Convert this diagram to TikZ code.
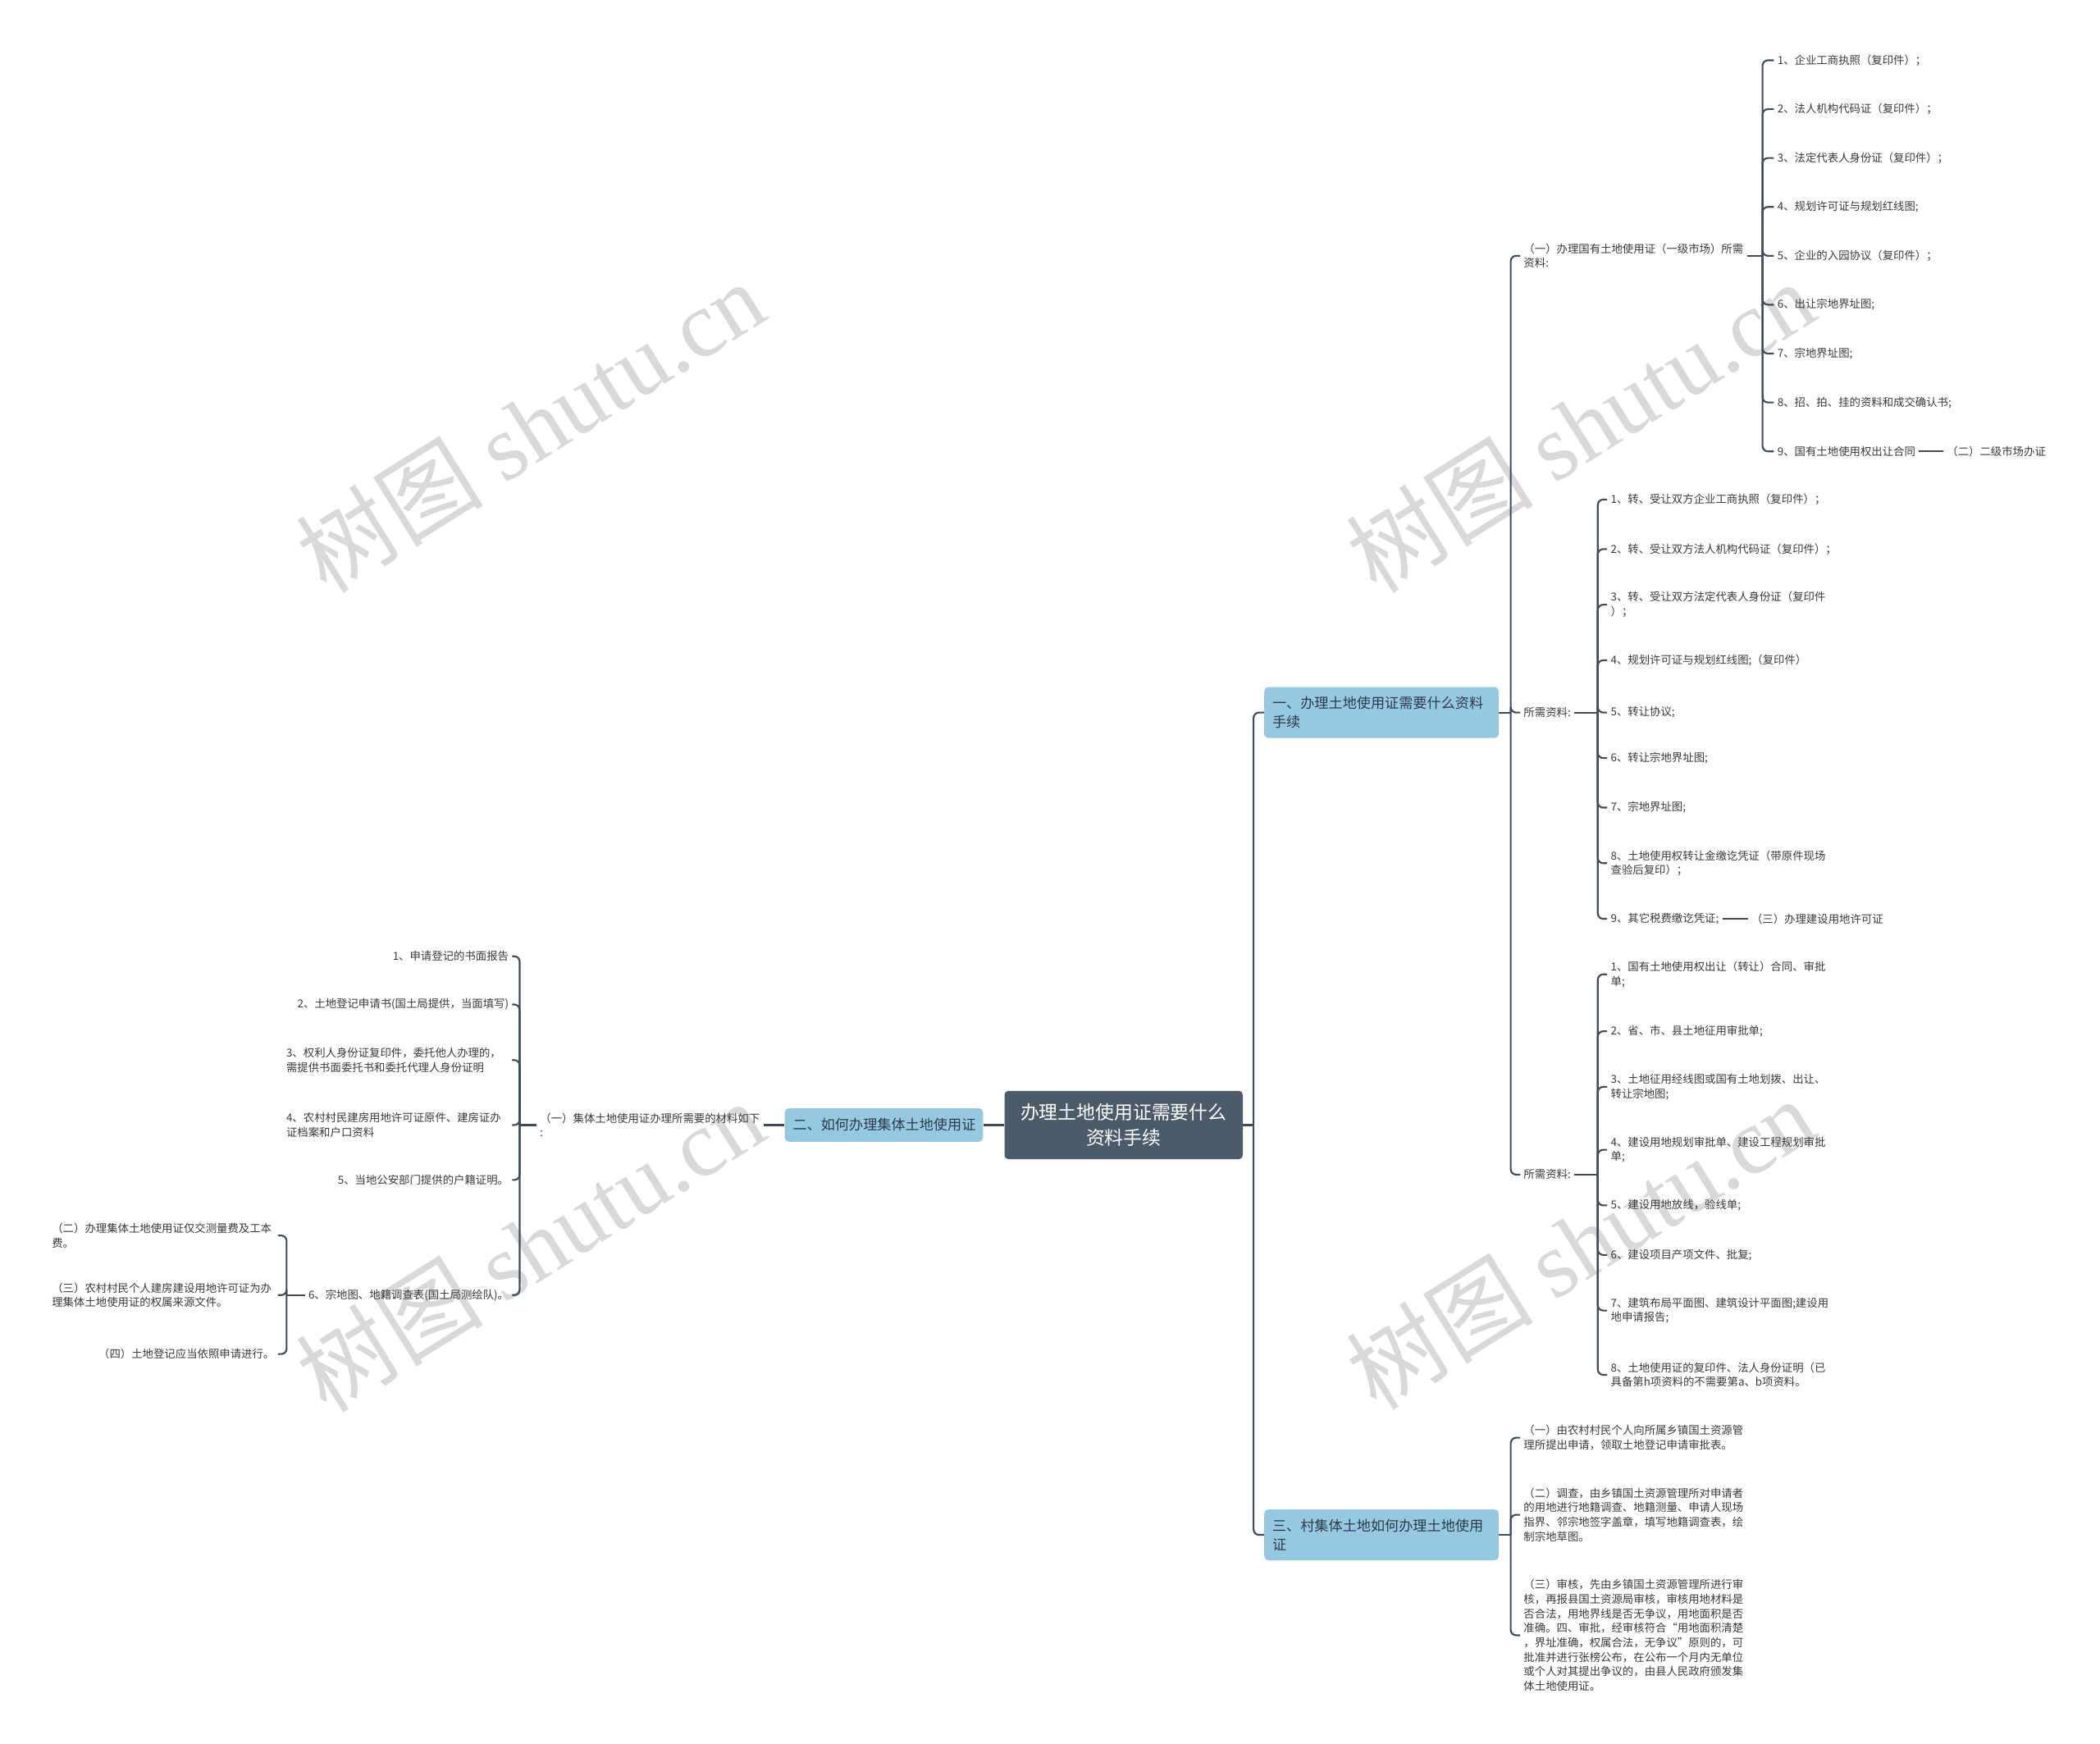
\documentclass[tikz,border=0pt]{standalone}
\usepackage{fontspec}
\setmainfont{Noto Sans CJK SC}
\newfontfamily\wmserif{Liberation Serif}
\usepackage{xcolor}
\usepackage{tikz}
\definecolor{rootSlate}{HTML}{4B5B6A}
\definecolor{topicBlue}{HTML}{95C9E2}
\definecolor{topicInk}{HTML}{2E3B47}
\definecolor{lineSlate}{HTML}{3E4C59}
\definecolor{itemInk}{HTML}{3A3A3A}
\definecolor{wmGrey}{HTML}{D9D9D9}
\tikzset{
  link/.style={draw=lineSlate, line width=1.3pt},
  elbow/.style={link, rounded corners=4pt},
  rootbox/.style={fill=rootSlate, text=white, rounded corners=3pt, align=center,
                  minimum width=178pt, minimum height=51pt,
                  font=\fontsize{14}{19}\selectfont},
  topicbox/.style={fill=topicBlue, text=topicInk, rounded corners=3pt, align=left,
                   inner xsep=6pt, text width=163pt, minimum height=38pt,
                   font=\fontsize{10.5}{14}\selectfont},
  ritem/.style={anchor=west, align=left, text=itemInk, inner sep=2.5pt},
  litem/.style={anchor=east, align=left, text=itemInk, inner sep=2.5pt},
  lblock/.style={litem, text width=166pt},
  wmark/.style={text=wmGrey, rotate=32, inner sep=0pt, font=\fontsize{70}{70}\selectfont},
}

\begin{document}
\begin{tikzpicture}[x=1pt, y=-1pt, font=\fontsize{8.2}{10.8}\selectfont]
\fill[white] (0,0) rectangle (1568,1302);
\useasboundingbox (0,0) rectangle (1568,1302);
% watermark
\foreach \wx/\wy [count=\k] in {396/318, 1180/318, 396/930, 1180/928}
  \node[wmark] (wm\k) at (\wx,\wy) {树图 {\wmserif shutu.cn}};

\node[rootbox] (root) at (839,840) {办理土地使用证需要什么\\资料手续};
\node[topicbox] (ta) at (1031.5,532) {一、办理土地使用证需要什么资料\\手续};
\node[topicbox, text width=136pt, minimum height=25pt] (tb) at (660,840) {二、如何办理集体土地使用证};
\node[topicbox] (tc) at (1031.5,1146) {三、村集体土地如何办理土地使用\\证};

% right side, first topic
\node[ritem] (a1) at (1135,191) {（一）办理国有土地使用证（一级市场）所需\\资料:};
\node[ritem] (a2) at (1135,532) {所需资料:};
\node[ritem] (a3) at (1135,877) {所需资料:};
\foreach \txt [count=\i] in {1、企业工商执照（复印件）；, 2、法人机构代码证（复印件）；,
    3、法定代表人身份证（复印件）；, 4、规划许可证与规划红线图;, 5、企业的入园协议（复印件）；,
    6、出让宗地界址图;, 7、宗地界址图;, 8、招、拍、挂的资料和成交确认书;, 9、国有土地使用权出让合同} {
  \pgfmathsetmacro{\yy}{45+36.5*(\i-1)}
  \node[ritem] (a1-\i) at (1324.5,\yy) {\txt};
}
\node[ritem] (a1sub) at (1451,337) {（二）二级市场办证};
\foreach \yy/\txt [count=\i] in {373/{1、转、受让双方企业工商执照（复印件）；},
    410/{2、转、受让双方法人机构代码证（复印件）；},
    451.5/{3、转、受让双方法定代表人身份证（复印件\\）；},
    493/{4、规划许可证与规划红线图;（复印件）}, 532/{5、转让协议;},
    566/{6、转让宗地界址图;}, 603/{7、宗地界址图;},
    644.5/{8、土地使用权转让金缴讫凭证（带原件现场\\查验后复印）；},
    686/{9、其它税费缴讫凭证;}}
  \node[ritem] (a2-\i) at (1200,\yy) {\txt};
\node[ritem] (a2sub) at (1305,686) {（三）办理建设用地许可证};
\foreach \yy/\txt [count=\i] in {727.5/{1、国有土地使用权出让（转让）合同、审批\\单;},
    770/{2、省、市、县土地征用审批单;},
    811.5/{3、土地征用经线图或国有土地划拨、出让、\\转让宗地图;},
    858.5/{4、建设用地规划审批单、建设工程规划审批\\单;},
    900/{5、建设用地放线，验线单;}, 937/{6、建设项目产项文件、批复;},
    978.5/{7、建筑布局平面图、建筑设计平面图;建设用\\地申请报告;},
    1026.5/{8、土地使用证的复印件、法人身份证明（已\\具备第h项资料的不需要第a、b项资料。}}
  \node[ritem] (a3-\i) at (1200,\yy) {\txt};

% right side, third topic
\node[ritem] (c1) at (1135,1073.5) {（一）由农村村民个人向所属乡镇国土资源管\\理所提出申请，领取土地登记申请审批表。};
\node[ritem] (c2) at (1135,1131) {（二）调查，由乡镇国土资源管理所对申请者\\的用地进行地籍调查、地籍测量、申请人现场\\指界、邻宗地签字盖章，填写地籍调查表，绘\\制宗地草图。};
\node[ritem] (c3) at (1135,1221) {（三）审核，先由乡镇国土资源管理所进行审\\核，再报县国土资源局审核，审核用地材料是\\否合法，用地界线是否无争议，用地面积是否\\准确。四、审批，经审核符合“用地面积清楚\\，界址准确，权属合法，无争议”原则的，可\\批准并进行张榜公布，在公布一个月内无单位\\或个人对其提出争议的，由县人民政府颁发集\\体土地使用证。};

% left side
\node[litem] (b1) at (570,840) {（一）集体土地使用证办理所需要的材料如下\\:};
\foreach \yy/\txt/\sty [count=\i] in {714/{1、申请登记的书面报告}/litem,
    750/{2、土地登记申请书(国土局提供，当面填写)}/litem,
    791.5/{3、权利人身份证复印件，委托他人办理的，\\需提供书面委托书和委托代理人身份证明}/lblock,
    840/{4、农村村民建房用地许可证原件、建房证办\\证档案和户口资料}/lblock,
    881/{5、当地公安部门提供的户籍证明。}/litem,
    967/{6、宗地图、地籍调查表(国土局测绘队)。}/litem}
  \node[\sty] (l\i) at (382.5,\yy) {\txt};
\node[lblock] (l6-1) at (207.5,922.5) {（二）办理集体土地使用证仅交测量费及工本\\费。};
\node[lblock] (l6-2) at (207.5,967) {（三）农村村民个人建房建设用地许可证为办\\理集体土地使用证的权属来源文件。};
\node[litem] (l6-3) at (207.5,1011) {（四）土地登记应当依照申请进行。};

% connectors
\coordinate (busR) at (936,0);
\coordinate (busA) at (1128,0);
\coordinate (busA1) at (1316,0);
\coordinate (busA2) at (1193,0);
\coordinate (busL) at (388,0);
\coordinate (busL6) at (214,0);
\draw[link] (root.east) -- (root.east -| busR);
\foreach \t in {ta,tc} \draw[elbow] (root.east -| busR) |- (\t.west);
\draw[link] (root.west) -- (tb.east);
\draw[link] (ta.east) -- (ta.east -| busA);
\foreach \t in {a1,a2,a3} \draw[elbow] (ta.east -| busA) |- (\t.west);
\draw[link] (tc.east) -- (tc.east -| busA);
\foreach \t in {c1,c2,c3} \draw[elbow] (tc.east -| busA) |- (\t.west);
\draw[link] (a1.east) -- (a1.east -| busA1);
\foreach \i in {1,...,9} \draw[elbow] (a1.east -| busA1) |- (a1-\i.west);
\draw[link] (a2.east) -- (a2.east -| busA2);
\foreach \i in {1,...,9} \draw[elbow] (a2.east -| busA2) |- (a2-\i.west);
\draw[link] (a3.east) -- (a3.east -| busA2);
\foreach \i in {1,...,8} \draw[elbow] (a3.east -| busA2) |- (a3-\i.west);
\draw[link] (a1-9.east) -- (a1sub.west);
\draw[link] (a2-9.east) -- (a2sub.west);
\draw[link] (tb.west) -- (b1.east);
\draw[link] (b1.west) -- (b1.west -| busL);
\foreach \i in {1,...,6} \draw[elbow] (b1.west -| busL) |- (l\i.east);
\draw[link] (l6.west) -- (l6.west -| busL6);
\foreach \i in {1,2,3} \draw[elbow] (l6.west -| busL6) |- (l6-\i.east);
\end{tikzpicture}
\end{document}
